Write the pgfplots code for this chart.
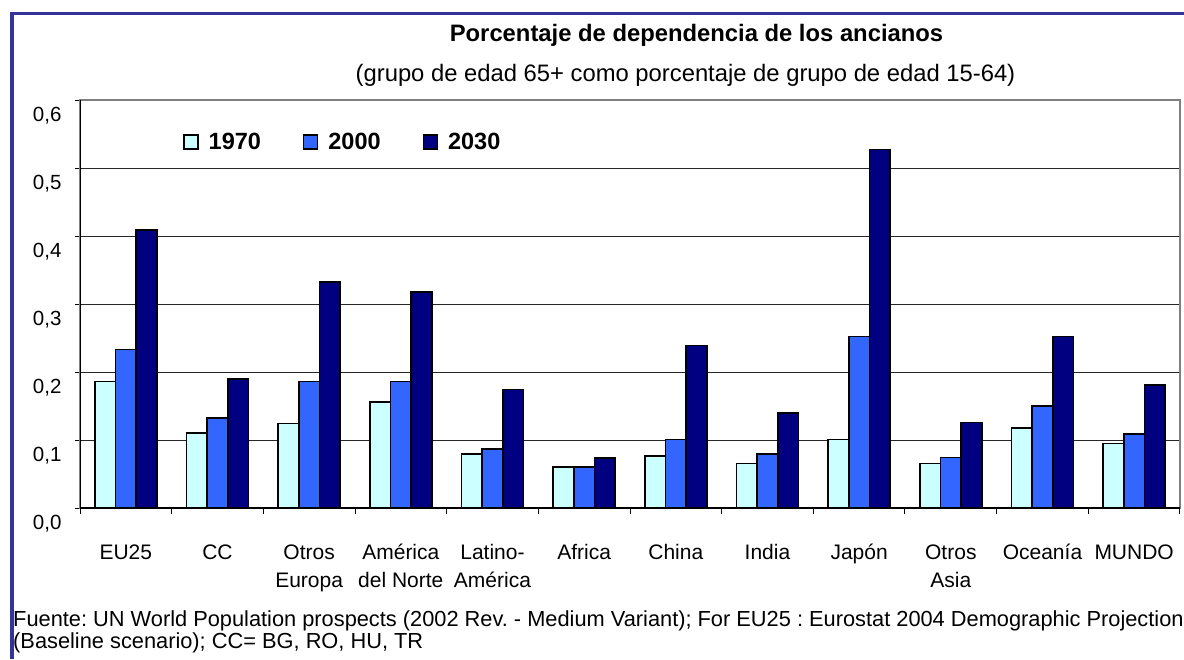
\documentclass[border=0pt]{standalone}
\usepackage{pgfplots}
\pgfplotsset{compat=1.18}
\usepackage{pgfplotstable}
\usepackage{fontspec}
\setmainfont{Liberation Sans}
\frenchspacing
\definecolor{c70}{HTML}{CCFFFF}
\definecolor{c00}{HTML}{3366FF}
\definecolor{c30}{HTML}{000080}
\definecolor{frame}{HTML}{333399}
\pgfplotstableread{
x a b c
0 0.186 0.233 0.409
1 0.110 0.132 0.190
2 0.124 0.186 0.332
3 0.156 0.186 0.318
4 0.079 0.087 0.174
5 0.060 0.060 0.0735
6 0.0765 0.101 0.239
7 0.0656 0.079 0.140
8 0.101 0.252 0.527
9 0.0656 0.074 0.126
10 0.118 0.150 0.252
11 0.095 0.109 0.181
}\data
\pgfplotsset{sq/.style={legend image code/.code={\draw[##1, line width=1.2pt] (0pt,-7pt) rectangle (14pt,7pt); \path (22pt,0pt);}}}
\begin{document}
\begin{tikzpicture}[x=1pt,y=1pt]
\path[use as bounding box] (0,0) rectangle (1184,659);
\draw[frame, line width=3.5pt] (12,0) -- (12,645.3) -- (1184,645.3);
\node[font=\bfseries\fontsize{23.8}{28}\selectfont] at (696.5,624) {Porcentaje de dependencia de los ancianos};
\node[font=\fontsize{23.8}{28}\selectfont] at (685.5,584) {(grupo de edad 65+ como porcentaje de grupo de edad 15-64)};
\node[font=\fontsize{21.8}{24}\selectfont, anchor=base west, inner sep=0] at (13,32) {Fuente: UN World Population prospects (2002 Rev. - Medium Variant); For EU25 : Eurostat 2004 Demographic Projection};
\node[font=\fontsize{21.8}{24}\selectfont, anchor=base west, inner sep=0] at (13,10) {(Baseline scenario); CC= BG, RO, HU, TR};
\begin{axis}[at={(80pt,151pt)}, anchor=south west, scale only axis,
  width=1100pt, height=408pt,
  xmin=-0.5, xmax=11.5, ymin=0, ymax=0.6,
  ybar=0pt, bar width=20.6pt,
  ytick={0,0.1,0.2,0.3,0.4,0.5,0.6},
  /pgf/number format/use comma,
  /pgf/number format/fixed,
  /pgf/number format/fixed zerofill,
  /pgf/number format/precision=1,
  /pgf/number format/assume math mode=true,
  yticklabel style={font=\fontsize{20.5}{24}\selectfont, anchor=east, xshift=-10pt, yshift=-16pt},
  xtick={0,1,2,3,4,5,6,7,8,9,10,11},
  xticklabels={EU25, CC, Otros\\Europa, América\\del Norte, Latino-\\América, Africa, China, India, Japón, Otros\\Asia, Oceanía, MUNDO},
  xticklabel style={font=\fontsize{21}{28}\selectfont, align=center, anchor=north, yshift=-28pt},
  minor xtick={-0.5,0.5,1.5,2.5,3.5,4.5,5.5,6.5,7.5,8.5,9.5,10.5,11.5},
  major x tick style={draw=none},
  minor x tick style={black, line width=1pt},
  y tick style={black, line width=1pt},
  major tick length=5pt, minor tick length=6pt,
  tick align=outside, tick pos=left,
  ymajorgrids, major grid style={black!85, line width=1pt},
  axis line style={draw=gray, line width=1.5pt},
  legend columns=3,
  legend style={draw=none, fill=none, at={(0.091,0.897)}, anchor=west,
    font=\bfseries\fontsize{23.5}{23.5}\selectfont,
    /tikz/every even column/.append style={column sep=40pt}},
]
\addplot[sq, fill=c70, draw=black, line width=1.6pt] table[x=x, y=a] {\data};
\addplot[sq, fill=c00, draw=black, line width=1.6pt] table[x=x, y=b] {\data};
\addplot[sq, fill=c30, draw=black, line width=1.6pt] table[x=x, y=c] {\data};
\legend{1970, 2000, 2030}
\draw[black, line width=1.2pt] (rel axis cs:0,1) -- (rel axis cs:0,0) -- (rel axis cs:1,0);
\end{axis}
\end{tikzpicture}
\end{document}
